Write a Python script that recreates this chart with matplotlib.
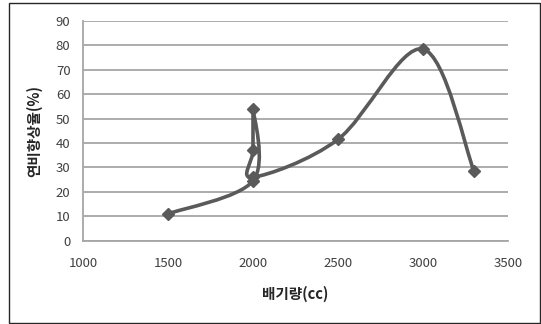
import numpy as np
import matplotlib
matplotlib.use("Agg")
import matplotlib.pyplot as plt
from matplotlib.path import Path
from matplotlib.patches import PathPatch, Rectangle

plt.rcParams['font.family'] = ['Noto Sans CJK KR', 'DejaVu Sans']

displacement = [1500, 2000, 2000, 2000, 2000, 2500, 3000, 3300]
improvement = [11, 24.5, 54, 37, 26, 41.5, 78.5, 28.5]
x_ticks = [1000, 1500, 2000, 2500, 3000, 3500]
y_ticks = [0, 10, 20, 30, 40, 50, 60, 70, 80, 90]
x_label = "배기량(cc)"
y_label = "연비향상율(%)"

W, H = 541, 324
fig = plt.figure(figsize=(W / 100, H / 100), dpi=100)
ax = fig.add_axes([83 / W, 1 - 240.7 / H, (508 - 83) / W, (240.7 - 21) / H])
ax.set_xlim(1000, 3500)
ax.set_ylim(0, 90)
ax.set_xticks(x_ticks)
ax.set_yticks(y_ticks)
ax.grid(axis='y', color='#a6a6a6', linewidth=1.3)
ax.set_axisbelow(True)
for s in ['top', 'right']:
    ax.spines[s].set_visible(False)
for s in ['left', 'bottom']:
    ax.spines[s].set_color('#a6a6a6')
    ax.spines[s].set_linewidth(1.3)
ax.tick_params(length=0, labelsize=9.5, colors='#404040')
ax.tick_params(axis='y', pad=9)
ax.tick_params(axis='x', pad=12)
ax.set_xlabel(x_label, fontsize=10.5, fontweight='bold', color='#262626', labelpad=11)
ax.set_ylabel(y_label, fontsize=10.5, fontweight='bold', color='#262626', labelpad=10)

# Excel-like smoothed line (Catmull-Rom Bezier in display space)
pts = ax.transData.transform(np.column_stack([displacement, improvement]))
n = len(pts)
verts = [pts[0]]
codes = [Path.MOVETO]
for i in range(n - 1):
    p0 = pts[i - 1] if i > 0 else pts[i]
    p1 = pts[i]
    p2 = pts[i + 1]
    p3 = pts[i + 2] if i + 2 < n else pts[i + 1]
    c1 = p1 + (p2 - p0) / 6.0
    c2 = p2 - (p3 - p1) / 6.0
    verts += [c1, c2, p2]
    codes += [Path.CURVE4] * 3
verts = ax.transData.inverted().transform(np.array(verts))
path = Path(verts, codes)
ax.add_patch(PathPatch(path, facecolor='none', edgecolor='#5a5a5a', linewidth=2.6, zorder=3))
ax.plot(displacement, improvement, linestyle='none', marker='D', markersize=6.5,
        color='#5a5a5a', zorder=4)

fig.patches.append(Rectangle((9 / W, 1 / H), (540 - 9) / W, (322 - 2) / H,
                             transform=fig.transFigure, fill=False,
                             edgecolor='#262626', linewidth=1.0))
fig.savefig('out.png', dpi=100)
